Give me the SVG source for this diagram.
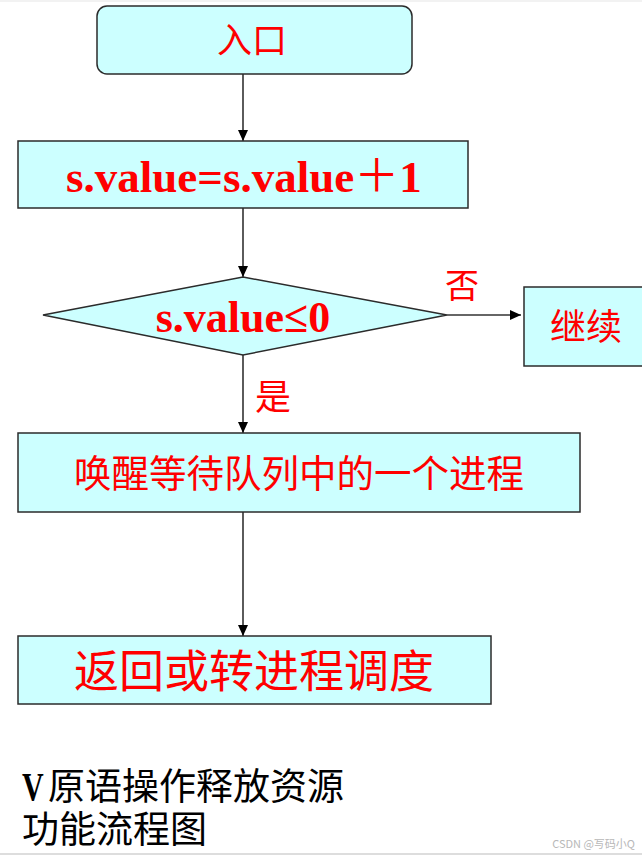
<svg xmlns="http://www.w3.org/2000/svg" width="642" height="855" viewBox="0 0 642 855">
  <style>
    .box { fill: #CCFFFF; stroke: #2b2b2b; stroke-width: 1.5; }
    .conn { stroke: #333333; stroke-width: 1.6; fill: none; }
    .lat { font-family: "Liberation Serif", "Noto Sans CJK SC", serif; font-weight: bold; fill: #FF0000; }
    .cjk { font-family: "Noto Sans CJK SC", "Liberation Sans", sans-serif; fill: #FF0000; }
    .cap { font-family: "Noto Sans CJK SC", "Liberation Sans", sans-serif; fill: #000000; }
  </style>
  <defs>
    <marker id="arr" markerUnits="userSpaceOnUse" markerWidth="12" markerHeight="11" refX="11" refY="5" orient="auto">
      <path d="M0,0 L11,5 L0,10 Z" fill="#000000"/>
    </marker>
  </defs>
  <rect x="0" y="0" width="642" height="855" fill="#ffffff"/>
  <rect x="0" y="0" width="642" height="2" fill="#f2f2f2"/>
  <rect x="0" y="853" width="642" height="2" fill="#dddddd"/>

  <g id="connectors">
    <line class="conn" x1="243" y1="74" x2="243" y2="141" marker-end="url(#arr)"/>
    <line class="conn" x1="243" y1="208" x2="243" y2="277" marker-end="url(#arr)"/>
    <line class="conn" x1="447" y1="315" x2="521" y2="315" marker-end="url(#arr)"/>
    <line class="conn" x1="243" y1="355" x2="243" y2="433" marker-end="url(#arr)"/>
    <line class="conn" x1="243" y1="512" x2="243" y2="636" marker-end="url(#arr)"/>
    <text class="cjk" x="462" y="298" font-size="34" text-anchor="middle">否</text>
    <text class="cjk" x="273" y="410" font-size="36" text-anchor="middle">是</text>
  </g>

  <g id="entry">
    <rect class="box" x="97" y="6" width="315" height="68" rx="10" ry="10"/>
    <text class="cjk" x="252" y="53" font-size="35" text-anchor="middle">入口</text>
  </g>

  <g id="increment">
    <rect class="box" x="18" y="141" width="450" height="67"/>
    <text class="lat" x="66" y="192" font-size="45">s.value=s.value<tspan font-weight="normal" font-family="Noto Sans CJK SC, sans-serif">＋</tspan>1</text>
  </g>

  <g id="decision">
    <polygon class="box" points="243,277 447,315 243,355 43,315"/>
    <text class="lat" x="243" y="332" font-size="44" text-anchor="middle">s.value≤0</text>
  </g>

  <g id="continue">
    <rect class="box" x="524" y="287" width="140" height="79"/>
    <text class="cjk" x="586" y="340" font-size="36" text-anchor="middle">继续</text>
  </g>

  <g id="wakeup">
    <rect class="box" x="18" y="433" width="562" height="79"/>
    <text class="cjk" x="299" y="487" font-size="37.5" text-anchor="middle">唤醒等待队列中的一个进程</text>
  </g>

  <g id="return">
    <rect class="box" x="18" y="636" width="473" height="68"/>
    <text class="cjk" x="254" y="688" font-size="45" text-anchor="middle">返回或转进程调度</text>
  </g>

  <g id="caption">
    <text transform="translate(22,800) scale(1,1.3)" x="0" y="0" font-family="Liberation Serif, serif" font-weight="bold" font-size="30" fill="#000000">V</text>
    <text class="cap" x="48" y="800" font-size="37">原语操作释放资源</text>
    <text class="cap" x="22" y="843" font-size="37">功能流程图</text>
  </g>

  <text x="635" y="848" font-family="Noto Sans CJK SC, Liberation Sans, sans-serif" font-size="11" fill="#b8b8b8" text-anchor="end">CSDN @写码小Q</text>
</svg>
